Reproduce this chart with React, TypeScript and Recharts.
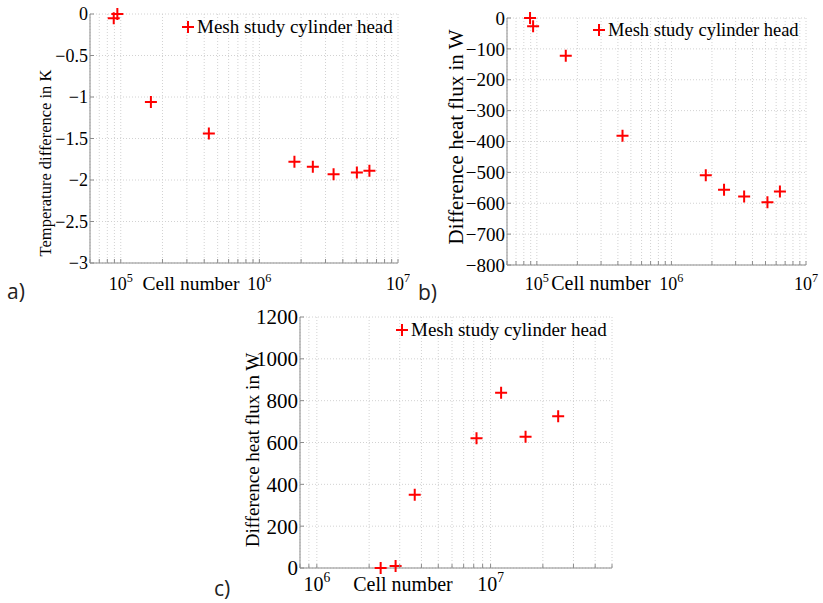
import React from 'react';
import { ScatterChart, Scatter, XAxis, YAxis, CartesianGrid, Legend } from 'recharts';

// a) temperature difference vs. cell number
const cellsA = [89000, 94500, 165000, 432000, 1790000, 2430000, 3430000, 5050000, 6220000];
const tempDiffA = [-0.05, 0, -1.06, -1.44, -1.78, -1.84, -1.93, -1.91, -1.89];

// b) heat flux difference vs. cell number
const cellsB = [89000, 93800, 164000, 433000, 1800000, 2460000, 3470000, 5170000, 6400000];
const heatDiffB = [0, -27, -122, -381, -509, -556, -578, -597, -562];

// c) heat flux difference vs. cell number (finer meshes)
const cellsC = [2330000, 2840000, 3660000, 8300000, 11500000, 15900000, 24500000];
const heatDiffC = [0, 10, 350, 620, 838, 628, 725];

const xTicksAB = [
  60000, 70000, 80000, 90000, 100000, 200000, 300000, 400000, 500000, 600000, 700000, 800000, 900000,
  1000000, 2000000, 3000000, 4000000, 5000000, 6000000, 7000000, 8000000, 9000000, 10000000,
];
const decadesAB = [100000, 1000000, 10000000];
const decadeExpAB = ['5', '6', '7'];

const xTicksC = [
  800000, 900000, 1000000, 2000000, 3000000, 4000000, 5000000, 6000000, 7000000, 8000000, 9000000,
  10000000, 20000000, 30000000, 40000000, 50000000,
];
const decadesC = [1000000, 10000000];
const decadeExpC = ['6', '7'];

const yTicksA = [0, -0.5, -1, -1.5, -2, -2.5, -3];
const yTicksB = [0, -100, -200, -300, -400, -500, -600, -700, -800];
const yTicksC = [0, 200, 400, 600, 800, 1000, 1200];

const SERIES_NAME = 'Mesh study cylinder head';
const X_LABEL = 'Cell number';

const SERIF = '"Liberation Serif", "DejaVu Serif", serif';
const AXIS_GRAY = '#8c8c8c';
const GRID_GRAY = '#d2d2d2';
const RED = '#ff0000';

function Plus(props: any) {
  const { cx, cy } = props;
  const r = 6;
  return (
    <path
      d={`M${cx - r},${cy}H${cx + r}M${cx},${cy - r}V${cy + r}`}
      stroke={RED}
      strokeWidth={2}
      fill="none"
    />
  );
}

type Panel = {
  left: number;
  top: number;
  width: number;
  height: number;
  plot: { left: number; right: number; top: number; bottom: number };
  cells: number[];
  values: number[];
  xDomain: [number, number];
  xTicks: number[];
  decades: number[];
  decadeExp: string[];
  yDomain: [number, number];
  yTicks: number[];
  yLabel: string;
  yLabelPos: [number, number];
  yLabelSize: number;
  yTickSize: number;
  xTickSize: number;
  xLabelPos: [number, number];
  xLabelSize: number;
  xTickBaseline: number;
  legendPos: [number, number];
  legendSize: number;
};

function bottomTick(p: Panel) {
  return (props: any) => {
    const { x, y, payload } = props;
    const i = p.decades.indexOf(payload.value);
    return (
      <g>
        <line x1={x} x2={x} y1={y} y2={y - 4} stroke={AXIS_GRAY} />
        {i >= 0 && (
          <text x={x} y={p.xTickBaseline} textAnchor="middle" style={{ fontFamily: SERIF, fontSize: p.xTickSize }} fill="#000">
            <tspan>10</tspan>
            <tspan dy={-p.xTickSize * 0.45} style={{ fontSize: p.xTickSize * 0.68 }}>{p.decadeExp[i]}</tspan>
          </text>
        )}
      </g>
    );
  };
}

function topTick(props: any) {
  const { x, y } = props;
  return <line x1={x} x2={x} y1={y} y2={y + 4} stroke={AXIS_GRAY} />;
}

function leftTick(p: Panel) {
  return (props: any) => {
    const { x, y, payload } = props;
    return (
      <g>
        <line x1={x} x2={x + 4} y1={y} y2={y} stroke={AXIS_GRAY} />
        <text x={x - 2} y={y} dy="0.35em" textAnchor="end" style={{ fontFamily: SERIF, fontSize: p.yTickSize }} fill="#000">
          {String(payload.value).replace('-', '\u2212')}
        </text>
      </g>
    );
  };
}

function rightTick(props: any) {
  const { x, y } = props;
  return <line x1={x} x2={x - 4} y1={y} y2={y} stroke={AXIS_GRAY} />;
}

function LegendBox(p: Panel) {
  return (props: any) => {
    const item = props.payload && props.payload[0];
    return (
      <div style={{ display: 'flex', alignItems: 'center', whiteSpace: 'nowrap', fontFamily: SERIF, fontSize: p.legendSize, color: '#000', lineHeight: 1 }}>
        <svg width={14} height={14} style={{ marginRight: 2 }}>
          <Plus cx={7} cy={7} />
        </svg>
        <span>{item ? item.value : SERIES_NAME}</span>
      </div>
    );
  };
}

function MeshPanel({ p }: { p: Panel }) {
  const data = p.cells.map((c, i) => ({ cells: c, value: p.values[i] }));
  const yAxisWidth = p.plot.left;
  const xAxisHeight = p.height - p.plot.bottom;
  return (
    <div style={{ position: 'absolute', left: p.left, top: p.top, width: p.width, height: p.height }}>
      <ScatterChart
        width={p.width}
        height={p.height}
        margin={{ top: p.plot.top, right: p.width - p.plot.right, bottom: 0, left: 0 }}
      >
        <CartesianGrid stroke={GRID_GRAY} strokeDasharray="1 2" />
        <XAxis
          dataKey="cells"
          type="number"
          scale="log"
          domain={p.xDomain}
          ticks={p.xTicks}
          interval={0}
          height={xAxisHeight}
          stroke={AXIS_GRAY}
          tickLine={false}
          tickSize={0}
          tickMargin={0}
          tick={bottomTick(p)}
          label={() => (
            <text x={p.xLabelPos[0]} y={p.xLabelPos[1]} textAnchor="middle" style={{ fontFamily: SERIF, fontSize: p.xLabelSize }} fill="#000">
              {X_LABEL}
            </text>
          )}
        />
        <XAxis
          xAxisId="top"
          orientation="top"
          type="number"
          scale="log"
          domain={p.xDomain}
          ticks={p.xTicks}
          interval={0}
          height={0}
          stroke={AXIS_GRAY}
          tickLine={false}
          tickSize={0}
          tickMargin={0}
          tick={topTick}
        />
        <YAxis
          dataKey="value"
          type="number"
          domain={p.yDomain}
          ticks={p.yTicks}
          interval={0}
          width={yAxisWidth}
          stroke={AXIS_GRAY}
          tickLine={false}
          tickSize={0}
          tickMargin={0}
          tick={leftTick(p)}
          label={() => (
            <text
              transform={`translate(${p.yLabelPos[0]},${p.yLabelPos[1]}) rotate(-90)`}
              textAnchor="middle"
              dy="0.35em"
              style={{ fontFamily: SERIF, fontSize: p.yLabelSize }}
              fill="#000"
            >
              {p.yLabel}
            </text>
          )}
        />
        <YAxis
          yAxisId="right"
          orientation="right"
          type="number"
          domain={p.yDomain}
          ticks={p.yTicks}
          interval={0}
          width={0}
          stroke={AXIS_GRAY}
          tickLine={false}
          tickSize={0}
          tickMargin={0}
          tick={rightTick}
        />
        <Legend
          layout="vertical"
          align="center"
          verticalAlign="middle"
          wrapperStyle={{ left: p.legendPos[0], top: p.legendPos[1], width: 'auto', height: 'auto' }}
          content={LegendBox(p)}
        />
        <Scatter name={SERIES_NAME} data={data} fill={RED} shape={<Plus />} isAnimationActive={false} />
      </ScatterChart>
    </div>
  );
}

const panelA: Panel = {
  left: 0, top: 0, width: 410, height: 300,
  plot: { left: 90, right: 398, top: 14, bottom: 263 },
  cells: cellsA, values: tempDiffA,
  xDomain: [60000, 10000000], xTicks: xTicksAB, decades: decadesAB, decadeExp: decadeExpAB,
  yDomain: [-3, 0], yTicks: yTicksA,
  yLabel: 'Temperature difference in K', yLabelPos: [45, 163], yLabelSize: 16.5,
  yTickSize: 18, xTickSize: 18, xLabelPos: [191, 290], xLabelSize: 19.5, xTickBaseline: 290,
  legendPos: [181, 17], legendSize: 19,
};

const panelB: Panel = {
  left: 410, top: 0, width: 413, height: 300,
  plot: { left: 97, right: 396, top: 18, bottom: 265 },
  cells: cellsB, values: heatDiffB,
  xDomain: [60000, 10000000], xTicks: xTicksAB, decades: decadesAB, decadeExp: decadeExpAB,
  yDomain: [-800, 0], yTicks: yTicksB,
  yLabel: 'Difference heat flux in W', yLabelPos: [46, 137], yLabelSize: 21,
  yTickSize: 19, xTickSize: 18, xLabelPos: [191, 290], xLabelSize: 20, xTickBaseline: 290,
  legendPos: [182, 21], legendSize: 18.5,
};

const panelC: Panel = {
  left: 210, top: 300, width: 420, height: 303,
  plot: { left: 90, right: 402, top: 17, bottom: 268 },
  cells: cellsC, values: heatDiffC,
  xDomain: [800000, 50000000], xTicks: xTicksC, decades: decadesC, decadeExp: decadeExpC,
  yDomain: [0, 1200], yTicks: yTicksC,
  yLabel: 'Difference heat flux in W', yLabelPos: [42, 150], yLabelSize: 19,
  yTickSize: 21, xTickSize: 20, xLabelPos: [193, 291], xLabelSize: 20, xTickBaseline: 291,
  legendPos: [185, 20], legendSize: 19,
};

const tagStyle: React.CSSProperties = {
  position: 'absolute',
  fontFamily: '"Open Sans", "DejaVu Sans", sans-serif',
  fontSize: 21,
  color: '#222',
  lineHeight: 1,
};

export default function App() {
  return (
    <div style={{ position: 'absolute', left: 0, top: 0, width: 823, height: 603, background: '#fff', overflow: 'hidden' }}>
      <MeshPanel p={panelA} />
      <MeshPanel p={panelB} />
      <MeshPanel p={panelC} />
      <div style={{ ...tagStyle, left: 7, top: 281 }}>a)</div>
      <div style={{ ...tagStyle, left: 418, top: 282 }}>b)</div>
      <div style={{ ...tagStyle, left: 214, top: 578 }}>c)</div>
    </div>
  );
}
